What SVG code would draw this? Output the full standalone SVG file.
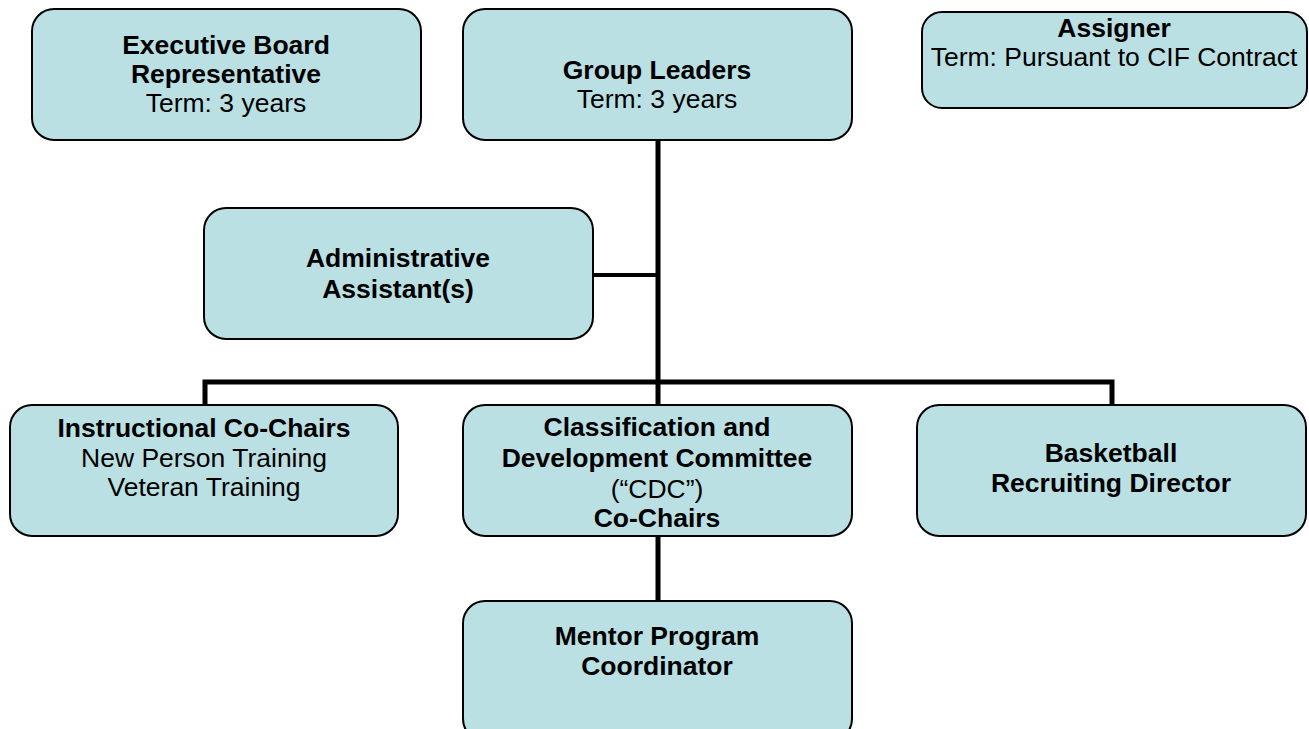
<svg xmlns="http://www.w3.org/2000/svg" width="1309" height="729" viewBox="0 0 1309 729">
<style>
.box{fill:#BBE0E3;stroke:#000;stroke-width:2}
text{font-family:"Liberation Sans",Arial,sans-serif;font-size:26.5px;fill:#000;text-anchor:middle}
.b{font-weight:bold}
.conn{stroke:#000;fill:none}
</style>
<rect width="1309" height="729" fill="#fff"/>
<g id="connectors">
<line class="conn" x1="658" y1="140" x2="658" y2="383" stroke-width="5"/>
<line class="conn" x1="593" y1="275" x2="658" y2="275" stroke-width="4"/>
<polyline class="conn" points="205,405 205,382 1112,382 1112,405" stroke-width="5"/>
<line class="conn" x1="658" y1="382" x2="658" y2="405" stroke-width="5"/>
<line class="conn" x1="658" y1="536" x2="658" y2="601" stroke-width="5"/>
</g>
<g id="exec-board">
<rect class="box" x="32" y="9" width="389" height="131" rx="22"/>
<text class="b" x="226" y="54">Executive Board</text>
<text class="b" x="226" y="83">Representative</text>
<text x="226" y="112">Term: 3 years</text>
</g>
<g id="group-leaders">
<rect class="box" x="463" y="9" width="389" height="131" rx="22"/>
<text class="b" x="657" y="79">Group Leaders</text>
<text x="657" y="108">Term: 3 years</text>
</g>
<g id="assigner">
<rect class="box" x="922" y="12" width="385" height="96" rx="20"/>
<text class="b" x="1114" y="37">Assigner</text>
<text x="1114" y="66">Term: Pursuant to CIF Contract</text>
</g>
<g id="admin">
<rect class="box" x="204" y="208" width="389" height="131" rx="22"/>
<text class="b" x="398" y="267">Administrative</text>
<text class="b" x="398" y="298">Assistant(s)</text>
</g>
<g id="instructional">
<rect class="box" x="10" y="405" width="388" height="131" rx="22"/>
<text class="b" x="204" y="437">Instructional Co-Chairs</text>
<text x="204" y="467">New Person Training</text>
<text x="204" y="496">Veteran Training</text>
</g>
<g id="cdc">
<rect class="box" x="463" y="405" width="389" height="131" rx="22"/>
<text class="b" x="657" y="436">Classification and</text>
<text class="b" x="657" y="467">Development Committee</text>
<text x="657" y="498">(“CDC”)</text>
<text class="b" x="657" y="527">Co-Chairs</text>
</g>
<g id="basketball">
<rect class="box" x="917" y="405" width="389" height="131" rx="22"/>
<text class="b" x="1111" y="462">Basketball</text>
<text class="b" x="1111" y="492">Recruiting Director</text>
</g>
<g id="mentor">
<rect class="box" x="463" y="601" width="389" height="140" rx="22"/>
<text class="b" x="657" y="645">Mentor Program</text>
<text class="b" x="657" y="675">Coordinator</text>
</g>
</svg>
